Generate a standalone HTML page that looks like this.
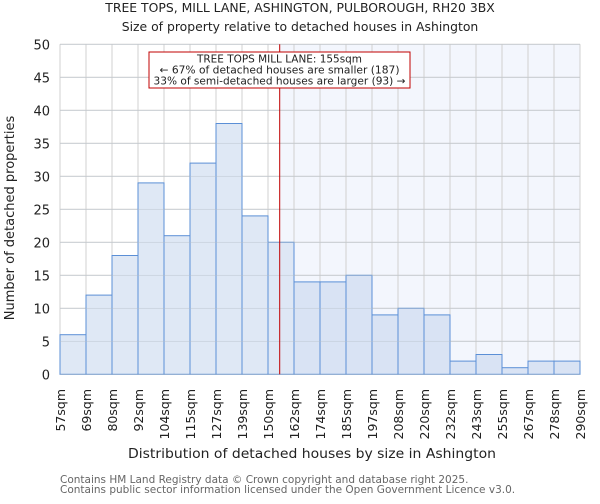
<!DOCTYPE html>
<html><head><meta charset="utf-8"><style>
body{margin:0;background:#fff;font-family:"DejaVu Sans","Liberation Sans",sans-serif;}
</style></head><body>
<svg width="600" height="500" xmlns="http://www.w3.org/2000/svg" id="chart" font-family="DejaVu Sans, Liberation Sans, sans-serif">
<text x="300" y="12" text-anchor="middle" font-size="12.4" fill="#222">TREE TOPS, MILL LANE, ASHINGTON, PULBOROUGH, RH20 3BX</text>
<text x="300" y="31" text-anchor="middle" font-size="12.4" fill="#222">Size of property relative to detached houses in Ashington</text>
<g id="plot"></g>
<text x="312" y="458" text-anchor="middle" font-size="13" textLength="368" lengthAdjust="spacingAndGlyphs" fill="#222">Distribution of detached houses by size in Ashington</text>
<text transform="translate(14,218) rotate(-90)" text-anchor="middle" font-size="13" fill="#222">Number of detached properties</text>
<text x="60" y="483" font-size="10.5" fill="#666">Contains HM Land Registry data © Crown copyright and database right 2025.</text>
<text x="60" y="493" font-size="10.5" fill="#666">Contains public sector information licensed under the Open Government Licence v3.0.</text>
</svg>
<script>
const labels=["57sqm","69sqm","80sqm","92sqm","104sqm","115sqm","127sqm","139sqm","150sqm","162sqm","174sqm","185sqm","197sqm","208sqm","220sqm","232sqm","243sqm","255sqm","267sqm","278sqm","290sqm"];
const counts=[6,12,18,29,21,32,38,24,20,14,14,15,9,10,9,2,3,1,2,2];
const yTicks=[0,5,10,15,20,25,30,35,40,45,50];
const markerBin=8.45;
const L=60,R=580,T=44.3,B=374.3,yMax=50;
const n=counts.length,bw=(R-L)/n;
const xs=i=>L+i*bw, ys=v=>B-(v/yMax)*(B-T);
const NS="http://www.w3.org/2000/svg";
const g=document.getElementById('plot');
function mk(t,a){const e=document.createElementNS(NS,t);for(const k in a)e.setAttribute(k,a[k]);g.appendChild(e);return e;}
const mx=xs(markerBin);
let e=mk('rect',{x:mx,y:T,width:R-mx,height:B-T,fill:'#f3f6fd'});


for(let i=0;i<=n;i++){e=mk('line',{x1:xs(i),x2:xs(i),y1:T,y2:B,stroke:'#d0d0d0','stroke-width':1});

}
yTicks.forEach(v=>{e=mk('line',{x1:L,x2:R,y1:ys(v),y2:ys(v),stroke:'#d0d0d0','stroke-width':1});


e=mk('text',{x:L-10,y:ys(v)+5,'text-anchor':'end','font-size':13,fill:'#222'});e.textContent=v;

});
counts.forEach((c,i)=>{e=mk('rect',{x:xs(i),y:ys(c),width:bw,height:B-ys(c),fill:i>=9?'#d6e1f3':'#dce6f4','fill-opacity':0.9,stroke:'#5b8fd6','stroke-width':1});

});
yTicks.forEach(v=>{mk('line',{x1:L,x2:R,y1:ys(v),y2:ys(v),stroke:'#b8c0cc','stroke-width':0.6,'stroke-opacity':0.6});});
labels.forEach((l,i)=>{e=mk('text',{transform:`translate(${xs(i)+5},389) rotate(-90)`,'text-anchor':'end','font-size':12.5,fill:'#222'});e.textContent=l;

});
e=mk('line',{x1:mx,x2:mx,y1:T,y2:B,stroke:'#c00000','stroke-width':1});


e=mk('rect',{x:149,y:52,width:261,height:36,fill:'#fff',stroke:'#c00000','stroke-width':1});


const annLens=[165,240,252];
["TREE TOPS MILL LANE: 155sqm","← 67% of detached houses are smaller (187)","33% of semi-detached houses are larger (93) →"].forEach((t,k)=>{
e=mk('text',{x:279.5,y:62.5+k*11,'text-anchor':'middle','font-size':10.5,fill:'#222',textLength:annLens[k],lengthAdjust:'spacingAndGlyphs'});e.textContent=t;

});
</script>
</body></html>
